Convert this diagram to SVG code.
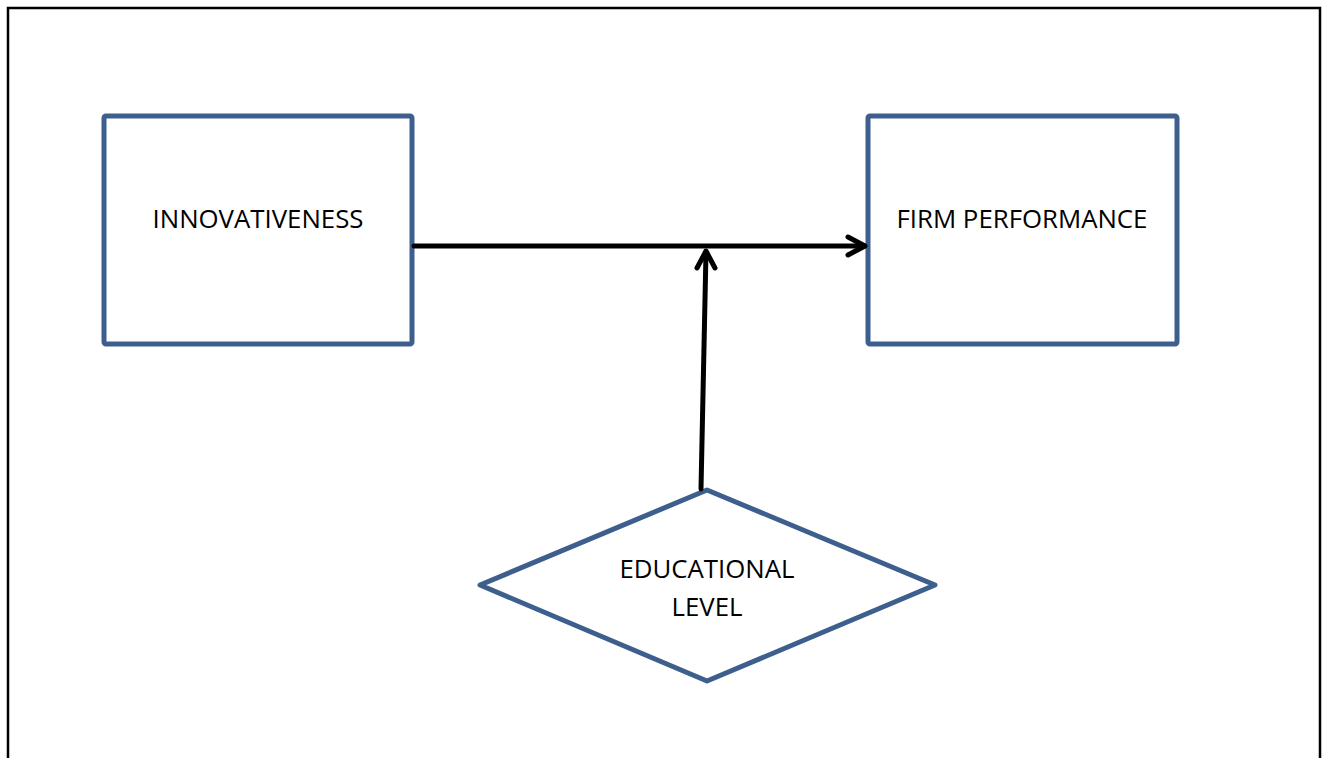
<svg xmlns="http://www.w3.org/2000/svg" width="1327" height="758" viewBox="0 0 1327 758">
<style>
.node{fill:#fff;stroke:#3d5f8e;stroke-width:5;stroke-linejoin:round}
.lbl{font-family:"Open Sans","Liberation Sans",sans-serif;font-size:25.8px;fill:#000;text-anchor:middle}
.conn{stroke:#000;stroke-width:5;fill:none;stroke-linecap:round}
.head{stroke:#000;stroke-width:5;fill:none;stroke-linecap:round;stroke-linejoin:round}
</style>
<rect width="1327" height="758" fill="#fff"/>
<path d="M8,758 V8 H1320 V758" fill="none" stroke="#000" stroke-width="2.5"/>
<g id="innovativeness">
<rect class="node" x="104" y="116" width="308" height="228" rx="2"/>
<text class="lbl" x="258" y="228">INNOVATIVENESS</text>
</g>
<g id="firm-performance">
<rect class="node" x="868" y="116" width="309" height="228" rx="2"/>
<text class="lbl" x="1022" y="228">FIRM PERFORMANCE</text>
</g>
<g id="educational-level">
<polygon class="node" points="707,490 935,585 707,681 480,585"/>
<text class="lbl" x="707" y="578">EDUCATIONAL</text>
<text class="lbl" x="707" y="616">LEVEL</text>
</g>
<g id="connectors">
<line class="conn" x1="414" y1="246" x2="864" y2="246"/>
<polyline class="head" points="848,237 865,246 848,255"/>
<line class="conn" x1="701" y1="489" x2="706" y2="252"/>
<polyline class="head" points="697,268 706,251 715,268"/>
</g>
</svg>
